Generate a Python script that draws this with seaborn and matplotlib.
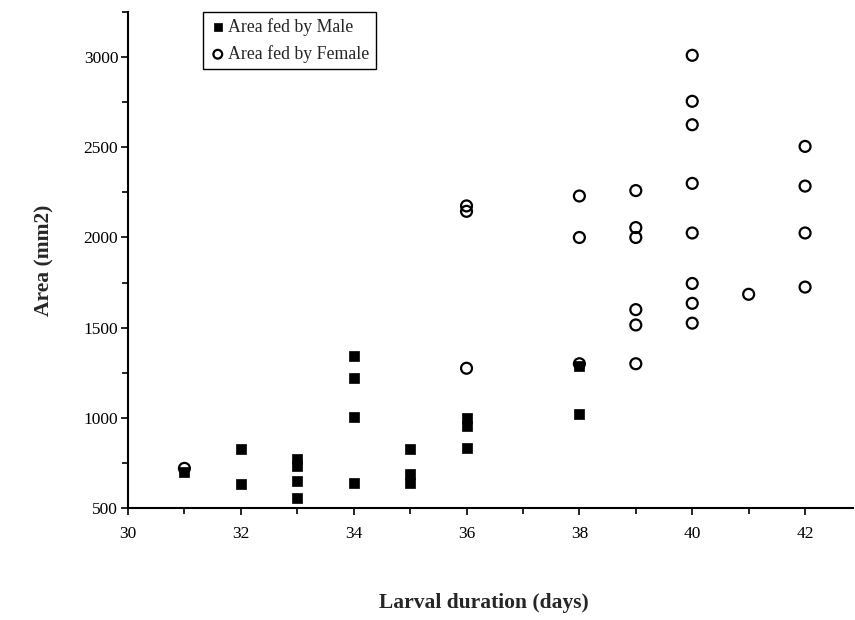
"""
Area fed vs larval duration, male/female scatter
"""
import pandas as pd
import matplotlib
matplotlib.use("Agg")
import matplotlib.pyplot as plt
from matplotlib.ticker import MultipleLocator
import seaborn as sns

# values
male_days = [31, 32, 32, 33, 33, 33, 33, 34, 34, 34, 34, 35, 35, 35, 36, 36, 36, 38, 38]
male_area = [700, 830, 635, 770, 735, 650, 555, 1345, 1220, 1005, 637, 830, 690, 640,
             1000, 955, 835, 1285, 1020]

female_days = [31, 36, 36, 36, 38, 38, 38, 39, 39, 39, 39, 39, 39,
               40, 40, 40, 40, 40, 40, 40, 40, 41, 42, 42, 42, 42]
female_area = [720, 2175, 2145, 1275, 2230, 2000, 1300, 2260, 2055, 2000, 1600, 1515, 1300,
               3010, 2755, 2625, 2300, 2025, 1745, 1635, 1525, 1685, 2505, 2285, 2025, 1725]

male = pd.DataFrame({"days": male_days, "area": male_area})
female = pd.DataFrame({"days": female_days, "area": female_area})

sns.set_style("ticks")
plt.rcParams["font.family"] = ["Liberation Serif", "DejaVu Serif"]

fig = plt.figure(figsize=(8.55, 6.2), dpi=100)
ax = fig.add_axes([0.1497, 0.1806, 0.848, 0.80])

sns.scatterplot(data=male, x="days", y="area", ax=ax, marker="s", s=55,
                color="black", edgecolor="black", linewidth=0.5,
                label="Area fed by Male")
sns.scatterplot(data=female, x="days", y="area", ax=ax, marker="o", s=62,
                color="black", facecolor="none", edgecolor="black", linewidth=1.6,
                label="Area fed by Female")

ax.set_xlim(30, 42.85)
ax.set_ylim(500, 3250)
ax.xaxis.set_major_locator(MultipleLocator(2))
ax.xaxis.set_minor_locator(MultipleLocator(1))
ax.yaxis.set_major_locator(MultipleLocator(500))
ax.yaxis.set_minor_locator(MultipleLocator(250))

sns.despine(ax=ax)
for side in ["left", "bottom"]:
    ax.spines[side].set_linewidth(1.5)
    ax.spines[side].set_color("black")

ax.tick_params(axis="both", which="major", direction="out", length=5, width=1.2,
               color="black", labelsize=12.5, labelcolor="black")
ax.tick_params(axis="both", which="minor", direction="out", length=4, width=1.2,
               color="black")
ax.tick_params(axis="x", which="major", pad=8)
ax.tick_params(axis="y", which="major", pad=2)

ax.set_xlabel("Larval duration (days)", fontsize=15.5, fontweight="bold")
ax.set_ylabel("Area (mm2)", fontsize=15.5, fontweight="bold")
ax.xaxis.set_label_coords(0.491, -0.172)
ax.yaxis.set_label_coords(-0.101, 0.5)

leg = ax.legend(loc="upper left", bbox_to_anchor=(0.103, 1.0), fontsize=12.8,
                frameon=True, fancybox=False, framealpha=1, edgecolor="black",
                handletextpad=0.1, handlelength=1.0, labelspacing=0.5,
                borderpad=0.35, borderaxespad=0, markerscale=0.8)
leg.get_frame().set_linewidth(1.0)

fig.savefig("out.png", dpi=100)
